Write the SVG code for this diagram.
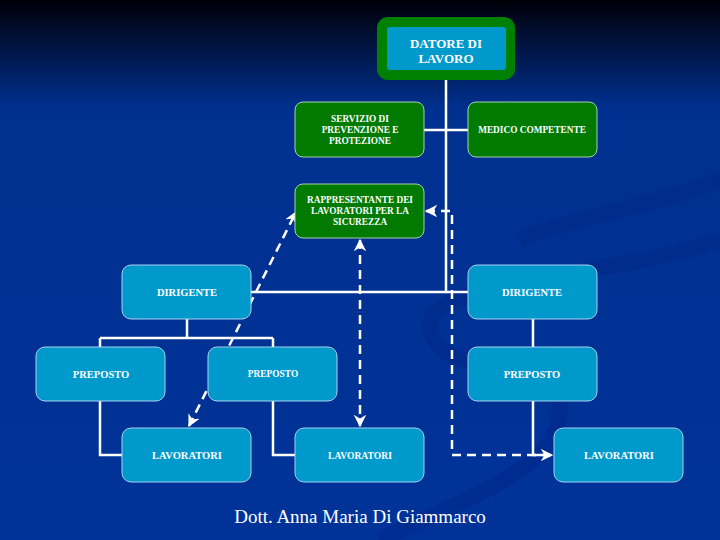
<svg xmlns="http://www.w3.org/2000/svg" width="720" height="540" viewBox="0 0 720 540">
<defs>
<linearGradient id="bg" x1="0" y1="0" x2="0" y2="1">
<stop offset="0" stop-color="#000008"/>
<stop offset="0.2" stop-color="#00308f"/>
<stop offset="1" stop-color="#003399"/>
</linearGradient>
<marker id="ah" viewBox="0 0 10 10" refX="9" refY="5" markerWidth="5" markerHeight="5" orient="auto-start-reverse" markerUnits="strokeWidth">
<path d="M0,0 L10,5 L0,10 L3,5 Z" fill="#ffffff"/>
</marker>
<style>
.g rect{fill:#007a00;stroke:#a8d0a8;stroke-width:1}
.b rect{fill:#0099cc;stroke:#a8d0f0;stroke-width:1}
text{font-family:"Liberation Serif","DejaVu Serif",serif;font-weight:bold;fill:#ffffff;text-anchor:middle}
.s{font-size:9.3px}
.m{font-size:10.5px}
.l{stroke:#ffffff;stroke-width:2.5;fill:none}
.d{stroke:#ffffff;stroke-width:2.5;fill:none;stroke-dasharray:9,6}
</style>
</defs>
<rect width="720" height="540" fill="url(#bg)"/>
<g fill="none" stroke="#00288a" stroke-width="16" opacity="0.55">
<path d="M720,240 C600,280 420,280 430,330 C440,380 560,360 560,410 C560,470 460,500 380,540"/>
<path d="M720,180 C640,210 560,220 520,240"/>
</g>
<g id="connectors">
<path class="l" d="M446,80 V292 M424,130 H468 M251,292 H468 M187,319 V338 M100,338 H273 M100,338 V347 M273,338 V347 M100,401 V455 H122 M273,401 V455 H295 M533,319 V347 M533,401 V455 H548"/>
<path class="d" d="M189,426 L296,212" marker-start="url(#ah)" marker-end="url(#ah)"/>
<path class="d" d="M360,240 V426" marker-start="url(#ah)" marker-end="url(#ah)"/>
<path class="d" d="M426,211 H452 V455 H552" marker-start="url(#ah)" marker-end="url(#ah)"/>
</g>
<g id="datore">
<rect x="377" y="17" width="138" height="63" rx="11" fill="#008000"/>
<rect x="387" y="27" width="119" height="43" rx="3" fill="#0099cc"/>
<text x="446" y="48" style="font-size:13px">DATORE DI</text>
<text x="446" y="63" style="font-size:13px">LAVORO</text>
</g>
<g id="servizio" class="g">
<rect x="295" y="102" width="129" height="55" rx="8"/>
<text class="s" x="360" y="122">SERVIZIO DI</text>
<text class="s" x="360" y="133">PREVENZIONE E</text>
<text class="s" x="360" y="144">PROTEZIONE</text>
</g>
<g id="medico" class="g">
<rect x="468" y="102" width="129" height="55" rx="8"/>
<text class="s" x="532" y="133">MEDICO COMPETENTE</text>
</g>
<g id="rls" class="g">
<rect x="295" y="184" width="129" height="54" rx="8"/>
<text class="s" x="360" y="203">RAPPRESENTANTE DEI</text>
<text class="s" x="360" y="214">LAVORATORI PER LA</text>
<text class="s" x="360" y="225">SICUREZZA</text>
</g>
<g id="dirigente1" class="b">
<rect x="122" y="265" width="129" height="54" rx="9"/>
<text class="m" x="187" y="296">DIRIGENTE</text>
</g>
<g id="dirigente2" class="b">
<rect x="468" y="265" width="129" height="54" rx="9"/>
<text class="m" x="532" y="296">DIRIGENTE</text>
</g>
<g id="preposto1" class="b">
<rect x="36" y="347" width="129" height="54" rx="9"/>
<text class="m" x="101" y="378">PREPOSTO</text>
</g>
<g id="preposto2" class="b">
<rect x="208" y="347" width="129" height="54" rx="9"/>
<text x="273" y="377" style="font-size:9.4px">PREPOSTO</text>
</g>
<g id="preposto3" class="b">
<rect x="468" y="347" width="129" height="54" rx="9"/>
<text class="m" x="532" y="378">PREPOSTO</text>
</g>
<g id="lavoratori1" class="b">
<rect x="122" y="428" width="129" height="54" rx="9"/>
<text class="m" x="187" y="459">LAVORATORI</text>
</g>
<g id="lavoratori2" class="b">
<rect x="295" y="428" width="129" height="54" rx="9"/>
<text x="360" y="459" style="font-size:9.6px">LAVORATORI</text>
</g>
<g id="lavoratori3" class="b">
<rect x="554" y="428" width="129" height="54" rx="9"/>
<text class="m" x="619" y="459">LAVORATORI</text>
</g>
<text x="360" y="523" style="font-size:19px;font-weight:normal">Dott. Anna Maria Di Giammarco</text>
</svg>
